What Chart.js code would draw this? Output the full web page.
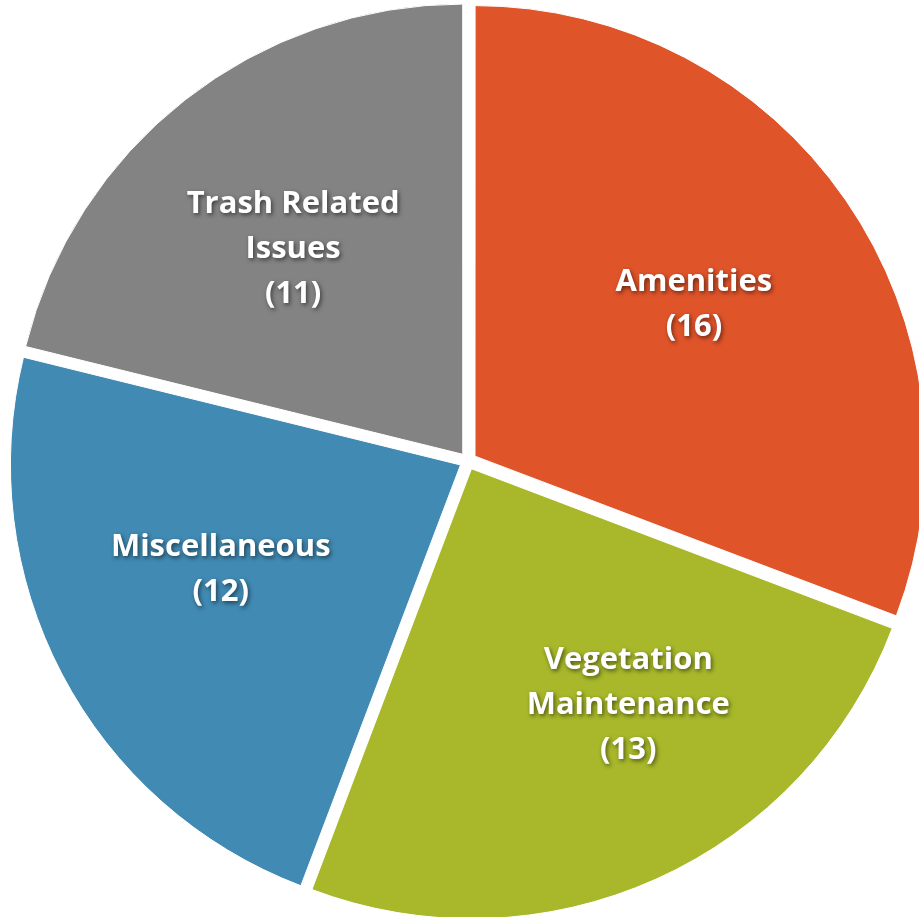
<!DOCTYPE html>
<html>
<head>
<meta charset="utf-8">
<title>Issues by Category</title>
<script src="https://cdn.jsdelivr.net/npm/chart.js@4.4.0/dist/chart.umd.min.js"></script>
<style>
  html, body { margin: 0; padding: 0; background: #fff; overflow: hidden; }
  #wrap { position: relative; width: 919px; height: 917px; overflow: hidden; }
  #myChart { position: absolute; left: -12px; top: -19px; }
</style>
</head>
<body>
<div id="wrap">
  <canvas id="myChart" width="960" height="960"></canvas>
</div>
<script>
const categories = ["Amenities", "Vegetation Maintenance", "Miscellaneous", "Trash Related Issues"];
const issueCounts = [16, 13, 12, 11];
const sliceColors = ["#e0542a", "#a8b82a", "#418ab3", "#838383"];

// label placement: turn away from the slice middle (deg) and share of the radius
const labelTurn = [0, -9, 4, -1.5];
const labelReach = [0.61, 0.65, 0.6, 0.61];

const wrapText = (ctx, text, maxWidth) => {
  const words = text.split(" ");
  const lines = [];
  let line = "";
  words.forEach((word) => {
    const test = line ? line + " " + word : word;
    if (line && ctx.measureText(test).width > maxWidth) {
      lines.push(line);
      line = word;
    } else {
      line = test;
    }
  });
  lines.push(line);
  return lines;
};

const sliceLabels = {
  id: "sliceLabels",
  afterDatasetsDraw(chart) {
    const ctx = chart.ctx;
    const arcs = chart.getDatasetMeta(0).data;
    ctx.save();
    ctx.font = "bold 31px 'Open Sans'";
    ctx.fillStyle = "#ffffff";
    ctx.textAlign = "center";
    ctx.textBaseline = "middle";
    ctx.shadowColor = "rgba(0, 0, 0, 0.55)";
    ctx.shadowBlur = 4;
    ctx.shadowOffsetX = 1.5;
    ctx.shadowOffsetY = 2;
    arcs.forEach((arc, i) => {
      const { x, y, startAngle, endAngle, outerRadius } = arc.getProps(
        ["x", "y", "startAngle", "endAngle", "outerRadius"],
        true
      );
      const mid = (startAngle + endAngle) / 2 + (labelTurn[i] * Math.PI) / 180;
      const r = outerRadius * labelReach[i];
      const cx = x + Math.cos(mid) * r;
      const cy = y + Math.sin(mid) * r;
      const lines = wrapText(ctx, chart.data.labels[i], 240);
      lines.push("(" + chart.data.datasets[0].data[i] + ")");
      const lineHeight = 45;
      const top = cy - ((lines.length - 1) * lineHeight) / 2;
      lines.forEach((line, j) => ctx.fillText(line, cx, top + j * lineHeight));
    });
    ctx.restore();
  },
};

const ctx = document.getElementById("myChart").getContext("2d");
new Chart(ctx, {
  type: "pie",
  data: {
    labels: categories,
    datasets: [
      {
        data: issueCounts,
        backgroundColor: sliceColors,
        borderColor: "#ffffff",
        borderWidth: 1,
        offset: 34,
        hoverOffset: 0,
      },
    ],
  },
  options: {
    responsive: false,
    animation: false,
    events: [],
    layout: { padding: 12.5 },
    plugins: {
      legend: { display: false },
      tooltip: { enabled: false },
    },
  },
  plugins: [sliceLabels],
});
</script>
</body>
</html>
